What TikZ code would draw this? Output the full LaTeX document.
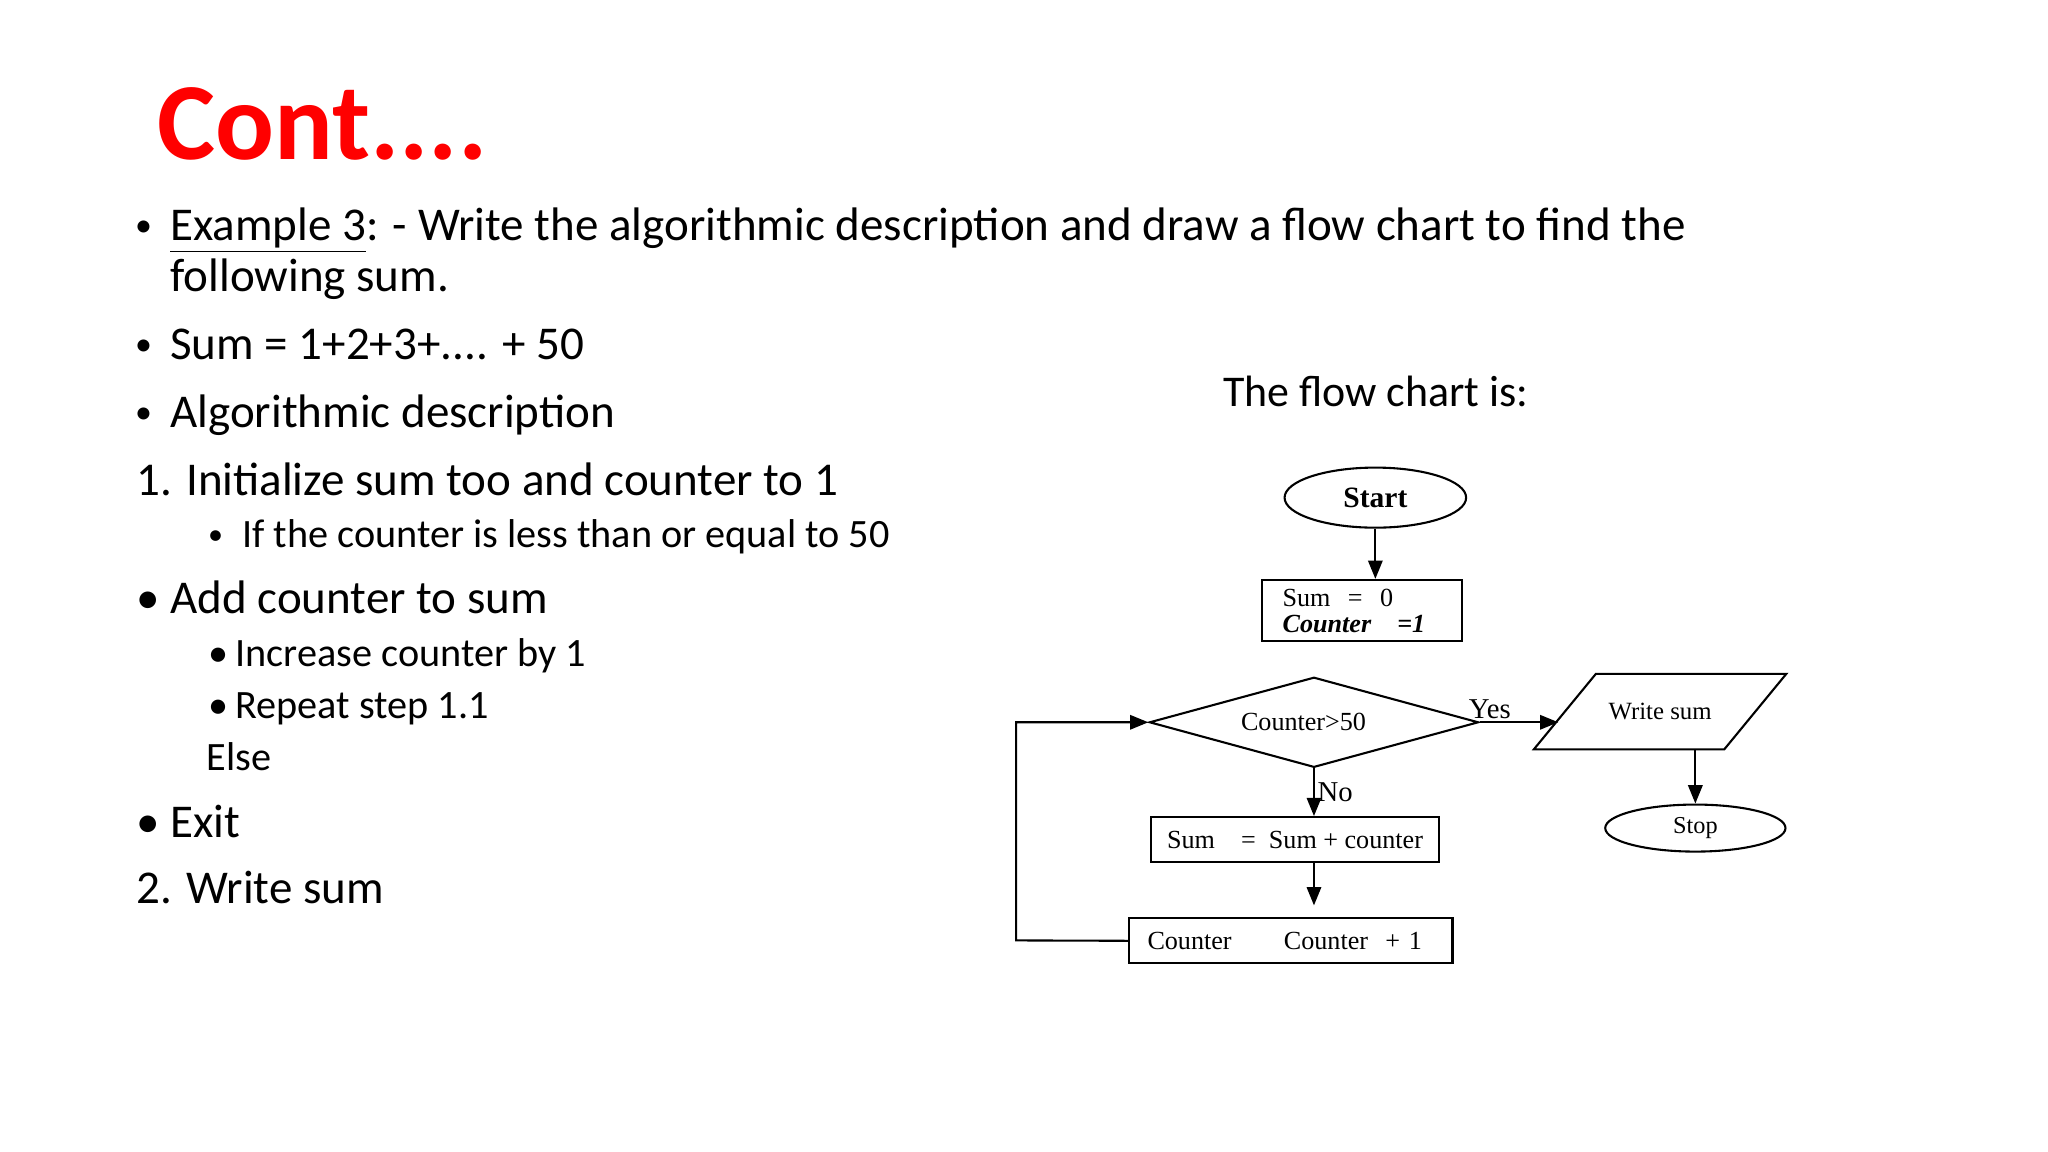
\documentclass[tikz,border=0pt]{standalone}
\usepackage{fontspec}
\setmainfont{Carlito}
\newfontfamily\tnr{Liberation Serif}
\usetikzlibrary{shapes.geometric,arrows.meta}
\begin{document}
\begin{tikzpicture}[x=0.5pt,y=-0.5pt,
 txt/.style={anchor=base west, inner sep=0pt, font=\fontsize{18}{21.6}\selectfont},
 subtxt/.style={anchor=base west, inner sep=0pt, font=\fontsize{15.4}{18}\selectfont},
 smallbul/.style={anchor=base west, inner sep=0pt, font=\fontsize{13}{13}\selectfont, yshift=1.5pt},
 fc/.style={draw, line width=0.8pt, font=\tnr\fontsize{10}{10}\selectfont, inner sep=0pt},
 term/.style={fc, ellipse},
 proc/.style={fc, rectangle},
 arr/.style={-{Triangle[length=7pt,width=5.5pt]}, line width=0.8pt},
 lbl/.style={font=\tnr\fontsize{11}{11}\selectfont, inner sep=0pt}
]
\path[use as bounding box, fill=white] (0,0) rectangle (1568,882);

% title
\node[anchor=base west, inner sep=0pt, text=red, font=\bfseries\fontsize{42}{42}\selectfont] (title) at (120,122) {Cont....};

% text column
\node[smallbul] (u1) at (103,184) {•};
\node[txt] (t1) at (130,184) {\underline{Example 3}: - Write the algorithmic description and draw a flow chart to find the};
\node[txt] (t1b) at (130,223) {following sum.};
\node[smallbul] (u2) at (103,275) {•};
\node[txt] (t2) at (130,275) {Sum = 1+2+3+.... + 50};
\node[smallbul] (u3) at (103,327) {•};
\node[txt] (t3) at (130,327) {Algorithmic description};
\node[txt] (t4) at (104,379) {1. Initialize sum too and counter to 1};
\node[smallbul, font=\fontsize{11.5}{12}\selectfont, yshift=-0.5pt] (u5) at (159,419) {•};
\node[subtxt] (t5) at (185,419) {If the counter is less than or equal to 50};
\node[txt] (u6) at (104,470) {•};
\node[txt] (t6) at (130,470) {Add counter to sum};
\node[subtxt] (u7) at (159,510) {•};
\node[subtxt] (t7) at (180,510) {Increase counter by 1};
\node[subtxt] (u8) at (159,550) {•};
\node[subtxt] (t8) at (180,550) {Repeat step 1.1};
\node[subtxt] (t9) at (158,590) {Else};
\node[txt] (u10) at (104,641) {•};
\node[txt] (t10) at (130,641) {Exit};
\node[txt] (t11) at (104,692) {2. Write sum};

\node[anchor=base west, inner sep=0pt, font=\fontsize{16.8}{20}\selectfont] (fct) at (936,311) {The flow chart is:};

% flowchart
\node[term, minimum width=69.5pt, minimum height=23pt, font=\tnr\bfseries\fontsize{11.3}{11}\selectfont] (start) at (1053,381) {Start};
\node[proc, minimum width=76.5pt, minimum height=23.5pt, text width=60.5pt, align=left] (init) at (1042.5,467.5) {Sum\ \ =\ \ 0\\\textbf{\textit{Counter\ \ \ =1}}};
\node[fc, diamond, aspect=3.65, minimum width=126pt, minimum height=34.5pt] (dec) at (1006,553) {Counter>50\kern8pt};
\node[proc, minimum width=110.5pt, minimum height=17.2pt] (add) at (991.5,642.8) {Sum\quad=\ \ Sum + counter};
\node[proc, minimum width=123.75pt, minimum height=17.3pt, text width=109.75pt, align=left] (inc) at (988.3,720.3) {Counter\hspace{20pt}Counter\ \ + 1};
\node[inner sep=0pt, minimum width=72.5pt, minimum height=28.5pt, font=\tnr\fontsize{9.5}{10}\selectfont] (out) at (1271,544.8) {Write sum};
\draw[line width=0.8pt] ([xshift=11.875pt]out.north west) -- ([xshift=11.875pt]out.north east) -- ([xshift=-11.875pt]out.south east) -- ([xshift=-11.875pt]out.south west) -- cycle;
\node[term, minimum width=69pt, minimum height=18pt, font=\tnr\fontsize{9.3}{10}\selectfont] (stop) at (1298,634) {Stop};
\coordinate (lp) at (778,720);

\draw[arr] (start.south) -- (start.south |- init.north);
\draw[arr] (dec.south) -- (dec.south |- add.north) node[lbl, pos=0.5, anchor=west, xshift=1pt] {No};
\draw[arr, shorten >=4.5pt] (dec.south |- add.south) -- (dec.south |- inc.north);
\draw[arr] (inc.west) -- (lp) |- (dec.west);
\draw[arr, shorten >=2.5pt] (dec.east) -- (dec.east -| out.west) node[lbl, pos=0.12, anchor=south, yshift=1pt] {Yes};
\draw[arr] (stop.north |- out.south) -- (stop.north);
\end{tikzpicture}
\end{document}
